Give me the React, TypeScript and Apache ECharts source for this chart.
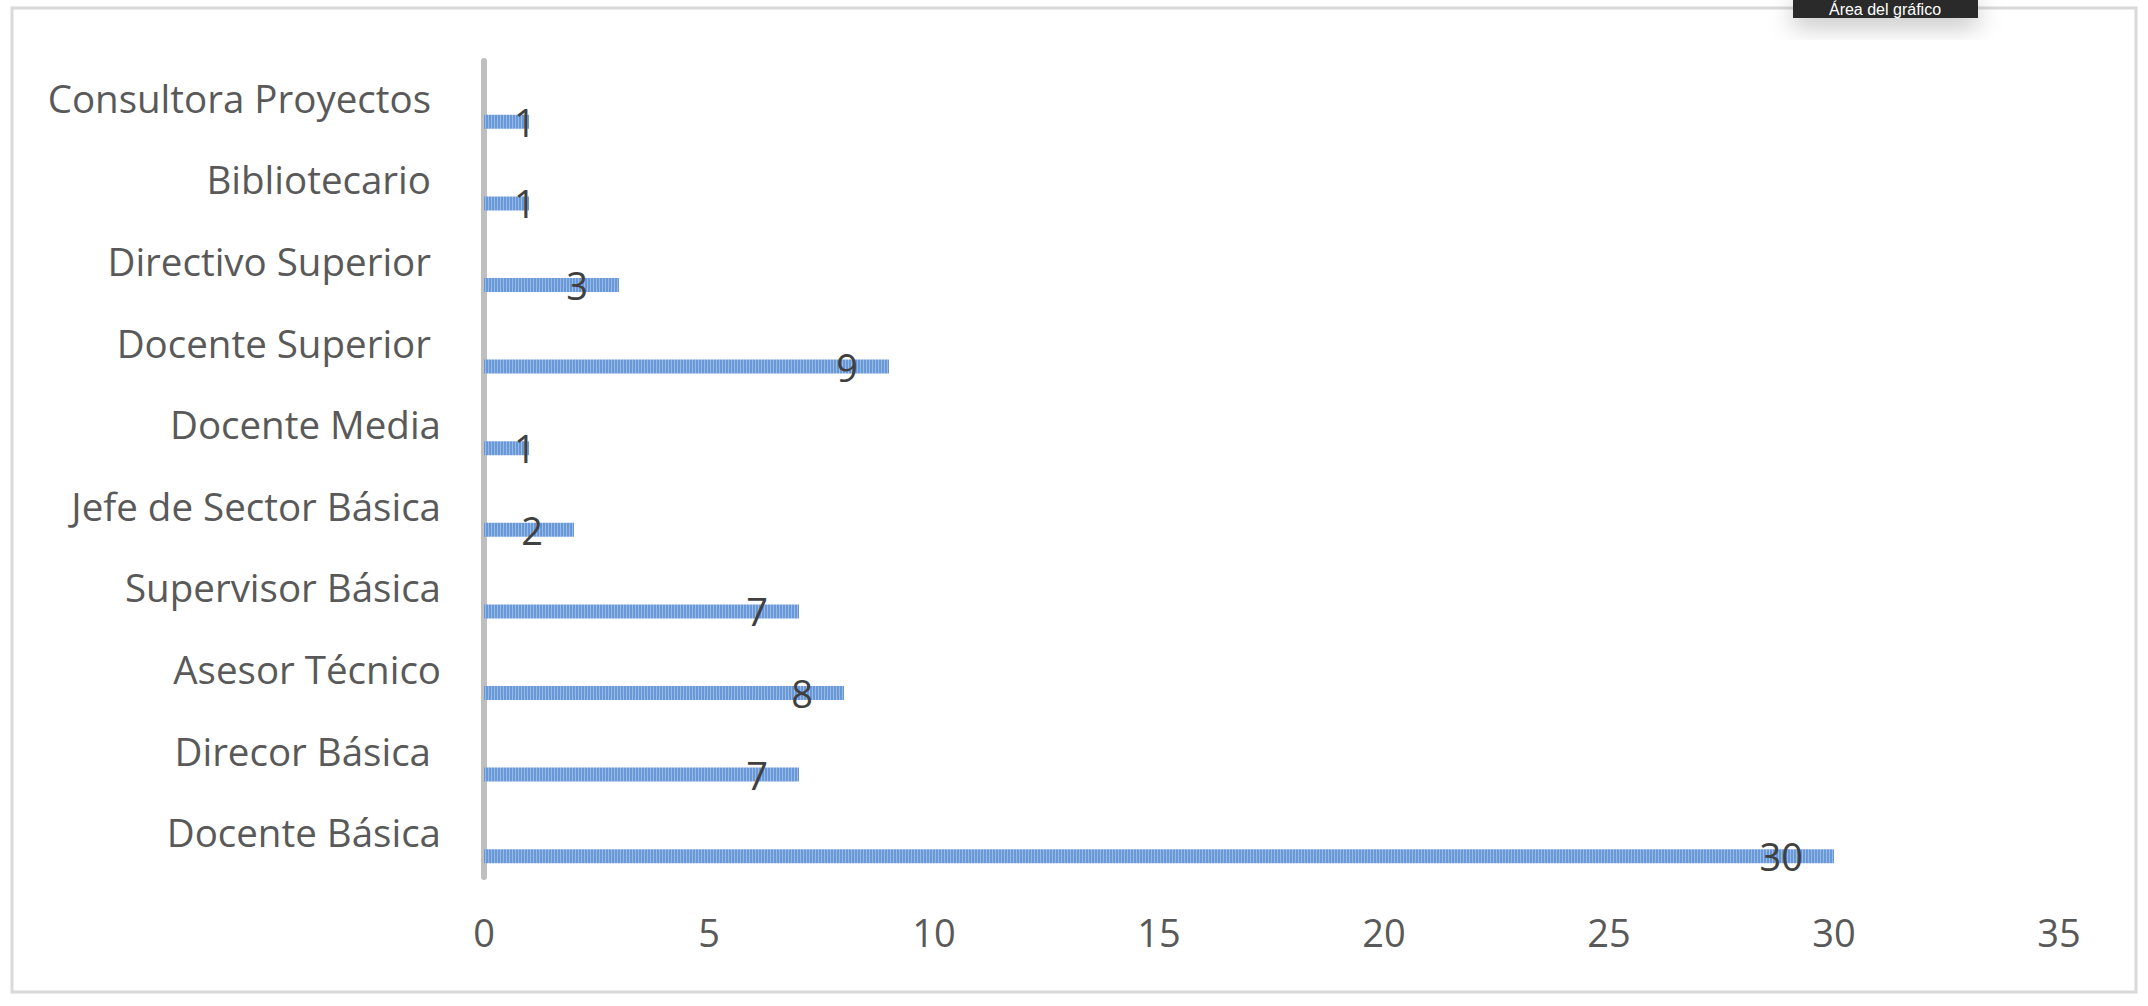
import React, { useEffect, useRef } from "react";
import * as echarts from "echarts";

const categories = [
  "Docente Básica",
  "Direcor Básica ",
  "Asesor Técnico",
  "Supervisor Básica",
  "Jefe de Sector Básica",
  "Docente Media",
  "Docente Superior ",
  "Directivo Superior ",
  "Bibliotecario ",
  "Consultora Proyectos ",
];
const values = [30, 7, 8, 7, 2, 1, 9, 3, 1, 1];
const xTicks = { min: 0, max: 35, interval: 5 };

function makePattern() {
  const c = document.createElement("canvas");
  c.width = 3;
  c.height = 16;
  const ctx = c.getContext("2d")!;
  ctx.fillStyle = "#6a98d7";
  ctx.fillRect(0, 0, 2, 16);
  ctx.fillStyle = "#97bbe7";
  ctx.fillRect(2, 0, 1, 16);
  return c;
}

export default function App() {
  const ref = useRef<HTMLDivElement>(null);
  useEffect(() => {
    const chart = echarts.init(ref.current!, null, { renderer: "svg" });
    const pattern = makePattern();
    const font = "'Open Sans', sans-serif";
    chart.setOption({
      animation: false,
      backgroundColor: "#ffffff",
      grid: { left: 484, right: 89, top: 61, bottom: 129, containLabel: false },
      xAxis: {
        type: "value",
        min: xTicks.min,
        max: xTicks.max,
        interval: xTicks.interval,
        axisLine: { show: false },
        axisTick: { show: false },
        splitLine: { show: false },
        axisLabel: { color: "#595959", fontSize: 38, fontFamily: font, margin: 36 },
      },
      yAxis: {
        type: "category",
        data: categories,
        axisLine: { show: true, lineStyle: { color: "#bfbfbf", width: 6 } },
        axisTick: { show: false },
        axisLabel: {
          color: "#595959",
          fontSize: 38.5,
          fontFamily: font,
          margin: 43,
          align: "right",
          verticalAlign: "bottom",
          lineHeight: 8,
        },
      },
      series: [
        {
          type: "bar",
          name: "gap",
          data: categories.map(() => "-"),
          barWidth: 14,
          barGap: "186%",
          silent: true,
        },
        {
          type: "bar",
          name: "Cantidad",
          barWidth: 14,
          barGap: "186%",
          itemStyle: { color: { image: pattern, repeat: "repeat" } },
          data: values.map((v) => ({
            value: v,
            label:
              v <= 1
                ? { position: "insideLeft", distance: 30 }
                : { position: "insideRight", distance: 31 },
          })),
          label: {
            show: true,
            color: "#404040",
            fontSize: 38,
            fontFamily: font,
          },
        },
      ],
      graphic: [
        {
          type: "rect",
          z: 0,
          silent: true,
          shape: { x: 12, y: 8, width: 2124, height: 984 },
          style: { fill: "none", stroke: "#d9d9d9", lineWidth: 3 },
        },
        {
          type: "rect",
          z: 100,
          silent: true,
          shape: { x: 1793, y: -4, width: 185, height: 22 },
          style: {
            fill: "#2b2b2b",
            shadowBlur: 24,
            shadowColor: "rgba(0,0,0,0.25)",
            shadowOffsetY: 8,
          },
        },
        {
          type: "text",
          z: 101,
          silent: true,
          x: 1885,
          y: 9,
          style: {
            text: "Área del gráfico",
            fill: "#ffffff",
            font: "16px 'Liberation Sans', sans-serif",
            align: "center",
            verticalAlign: "middle",
          },
        },
      ],
    });
    return () => chart.dispose();
  }, []);
  return (
    <div
      ref={ref}
      style={{ position: "fixed", left: 0, top: 0, width: 2148, height: 1006 }}
    />
  );
}
